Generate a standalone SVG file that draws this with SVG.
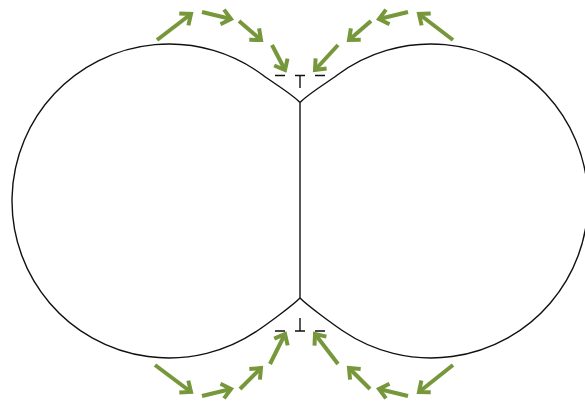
<svg xmlns="http://www.w3.org/2000/svg" width="585" height="407" viewBox="0 0 585 407">
<style>
.outline{fill:none;stroke:#111;stroke-width:1.4}
.dash{fill:none;stroke:#111;stroke-width:1.4;stroke-dasharray:10 10;stroke-dashoffset:10}
.arr{fill:none;stroke:#76973a;stroke-width:4;marker-end:url(#ah)}
</style>
<defs>
<marker id="ah" viewBox="-14 -10 17 20" refX="0" refY="0" markerWidth="17" markerHeight="20" markerUnits="userSpaceOnUse" orient="auto" overflow="visible">
<path d="M-9,-7.5 L0,0 L-9,7.5" fill="none" stroke="#76973a" stroke-width="4" stroke-linejoin="miter"/>
</marker>
</defs>
<rect width="585" height="407" fill="#fff"/>
<g id="left-particle">
<path class="outline" d="M300,102.5 C292,94 272.3,82.2 262.7,75 A157,157 0 1 0 257,331 C266.9,324.3 292,306 300,298"/>
</g>
<g id="right-particle">
<path class="outline" d="M300,102.5 C308,94 327.7,82.2 337.3,75 A157,157 0 1 1 343,331 C333.1,324.3 308,306 300,298"/>
</g>
<g id="neck">
<line class="outline" x1="300" y1="102.5" x2="300" y2="298"/>
<line class="dash" x1="265" y1="75.5" x2="335" y2="75.5"/>
<line class="outline" x1="300" y1="75.5" x2="300" y2="88"/>
<line class="dash" x1="265" y1="331" x2="335" y2="331"/>
<line class="outline" x1="300" y1="318" x2="300" y2="331"/>
</g>
<g id="connectors">
<line class="arr" x1="157" y1="40" x2="191" y2="14"/>
<line class="arr" x1="202" y1="12" x2="231" y2="19"/>
<line class="arr" x1="239" y1="21" x2="261" y2="40"/>
<line class="arr" x1="272" y1="45" x2="285" y2="70"/>
<line class="arr" x1="453" y1="40" x2="419" y2="14"/>
<line class="arr" x1="408" y1="12" x2="379" y2="19"/>
<line class="arr" x1="371" y1="21" x2="349" y2="40"/>
<line class="arr" x1="338" y1="45" x2="315" y2="70"/>
<line class="arr" x1="155" y1="365" x2="191" y2="392"/>
<line class="arr" x1="202" y1="396" x2="231" y2="389"/>
<line class="arr" x1="240" y1="389" x2="261" y2="368"/>
<line class="arr" x1="270" y1="364" x2="285" y2="334"/>
<line class="arr" x1="453" y1="365" x2="419" y2="392"/>
<line class="arr" x1="408" y1="396" x2="379" y2="389"/>
<line class="arr" x1="370" y1="389" x2="349" y2="368"/>
<line class="arr" x1="338" y1="364" x2="315" y2="334"/>
</g>
</svg>
